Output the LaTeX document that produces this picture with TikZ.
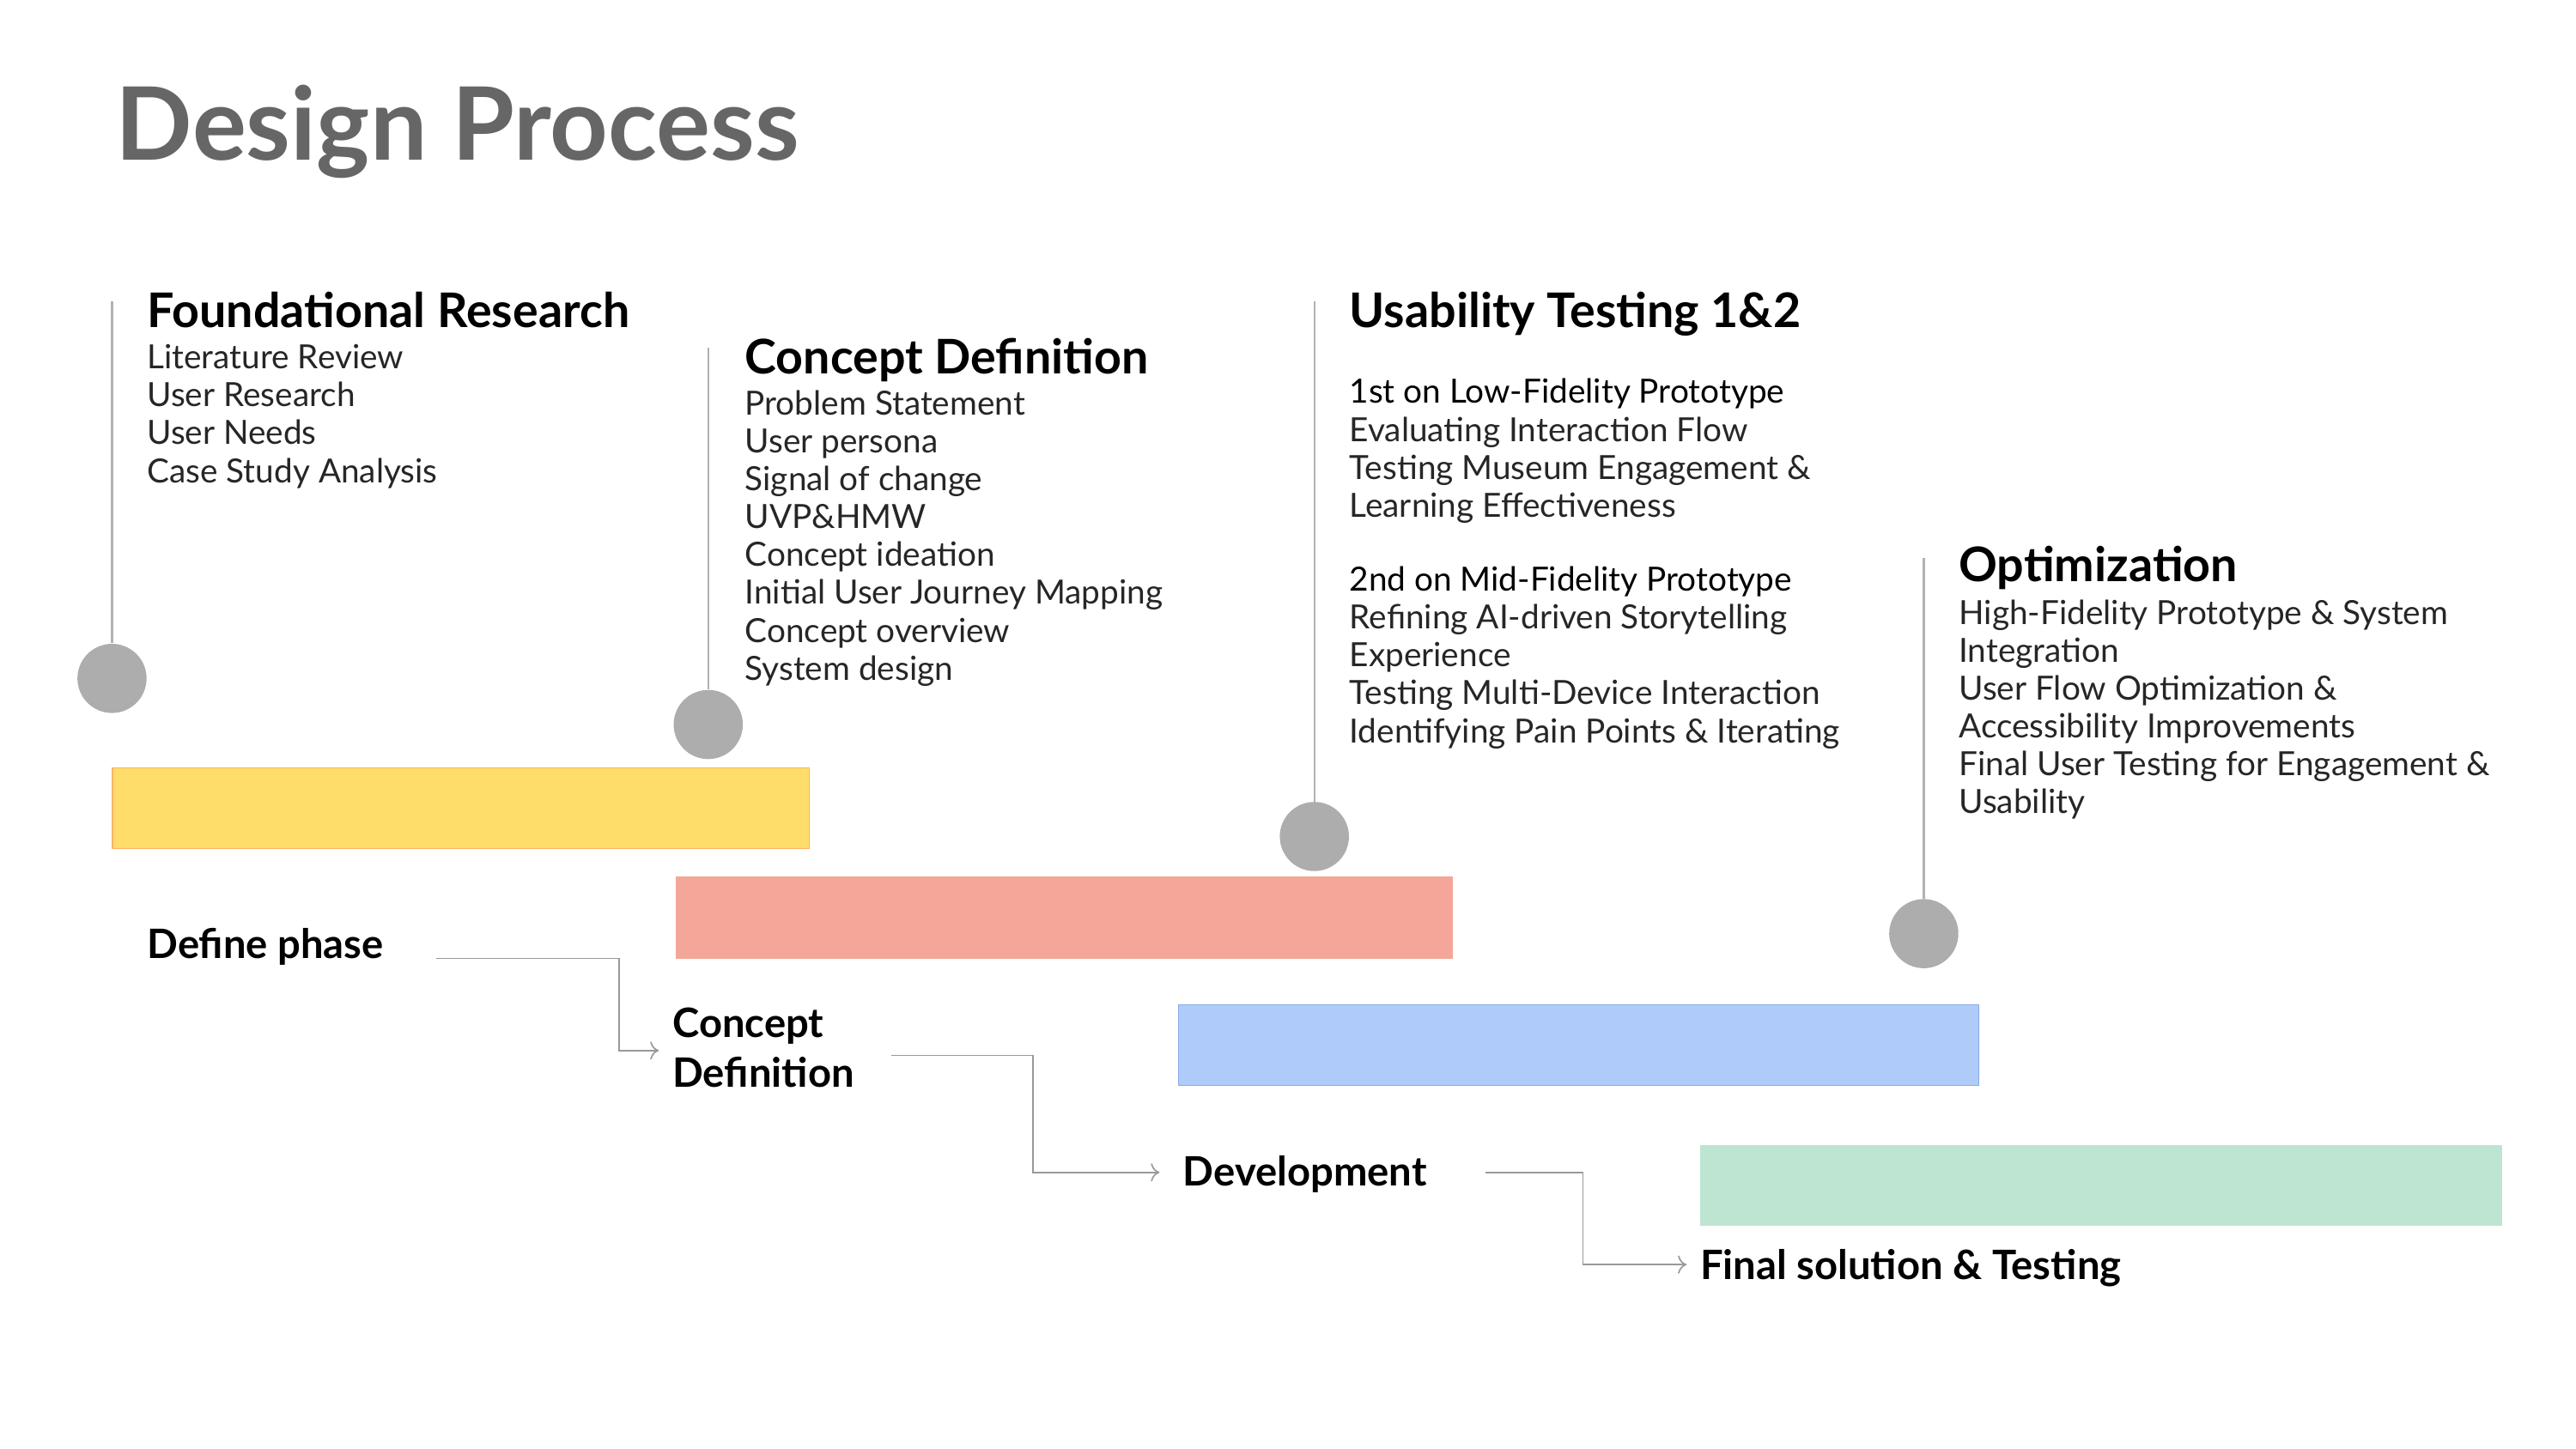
\documentclass[tikz,border=0pt]{standalone}
\usetikzlibrary{arrows.meta}
\usepackage{fontspec}
\setmainfont{Lato}
\begin{document}
\begin{tikzpicture}[x=0.02cm,y=-0.02cm,
  body/.style={anchor=base west,inner sep=0,font=\fontsize{11.5}{13}\selectfont,text=black!85},
  head/.style={anchor=base west,inner sep=0,font=\fontsize{16.5}{18}\selectfont\bfseries,text=black},
  phase/.style={anchor=base west,inner sep=0,font=\fontsize{14}{17}\selectfont\bfseries,text=black},
  vline/.style={draw=black!30,line width=0.7pt},
  dot/.style={circle,fill=black!32,minimum size=0.84cm,inner sep=0},
  conn/.style={draw=black!40,line width=0.5pt,-{To[length=3pt]}}]
\useasboundingbox (0,0) rectangle (1564,880);
\node[anchor=base west,inner sep=0,font=\fontsize{35}{40}\selectfont\bfseries,text=black!60] (title) at (70,97) {Design Process};
% timeline markers
\coordinate (t1) at (68,183); \node[dot] (d1) at (68,412) {};
\coordinate (t2) at (430,211); \node[dot] (d2) at (430,440) {};
\coordinate (t3) at (798,183); \node[dot] (d3) at (798,508) {};
\coordinate (t4) at (1168,339); \node[dot] (d4) at (1168,567) {};
\draw[vline] (t1) -- (d1); \draw[vline] (t2) -- (d2); \draw[vline] (t3) -- (d3); \draw[vline] (t4) -- (d4);
% bars
\node[draw=orange!60,fill={rgb,255:red,255;green,221;blue,107},minimum width=8.46cm,minimum height=0.98cm,anchor=north west,inner sep=0] (b1) at (68,466) {};
\node[fill={rgb,255:red,244;green,166;blue,152},minimum width=9.44cm,minimum height=1cm,anchor=north west,inner sep=0] (b2) at (410,532) {};
\node[draw={rgb,255:red,140;green,170;blue,230},fill={rgb,255:red,174;green,203;blue,250},minimum width=9.72cm,minimum height=0.98cm,anchor=north west,inner sep=0] (b3) at (715,610) {};
\node[fill={rgb,255:red,189;green,229;blue,210},minimum width=9.74cm,minimum height=0.98cm,anchor=north west,inner sep=0] (b4) at (1032,695) {};
% headings and bodies
\node[head] (h1) at (89,199) {Foundational Research};
\foreach \t [count=\i] in {Literature Review,User Research,User Needs,Case Study Analysis}
  \node[body] (fr\i) at (89,224+23*\i-23) {\t};
\node[head] (h2) at (452,227) {Concept Definition};
\foreach \t [count=\i] in {Problem Statement,User persona,Signal of change,UVP\&HMW,Concept ideation,Initial User Journey Mapping,Concept overview,System design}
  \node[body] (cd\i) at (452,252+23*\i-23) {\t};
\node[head] (h3) at (819,199) {Usability Testing 1\&2};
\foreach \t [count=\i] in {Evaluating Interaction Flow,Testing Museum Engagement \&,Learning Effectiveness}
  \node[body] (ua\i) at (819,268+23*\i-23) {\t};
\node[body,text=black] (ua0) at (819,245) {1st on Low-Fidelity Prototype};
\node[body,text=black] (ub0) at (819,359) {2nd on Mid-Fidelity Prototype};
\foreach \t [count=\i] in {Refining AI-driven Storytelling,Experience,Testing Multi-Device Interaction,Identifying Pain Points \& Iterating}
  \node[body] (ub\i) at (819,382+23*\i-23) {\t};
\node[head] (h4) at (1189,353) {Optimization};
\foreach \t [count=\i] in {High-Fidelity Prototype \& System,Integration,User Flow Optimization \&,Accessibility Improvements,Final User Testing for Engagement \&,Usability}
  \node[body] (op\i) at (1189,379+23*\i-23) {\t};
% phases
\node[phase] (p1) at (89,582) {Define phase};
\node[phase] (p2) at (408,630) {Concept};
\node[phase] (p2b) at (408,660) {Definition};
\node[phase] (p3) at (718,720) {Development};
\node[phase] (p4) at (1032,777) {Final solution \& Testing};
% connectors
\coordinate (c1) at (265,582); \coordinate (e1) at (400,638);
\coordinate (c2) at (541,641); \coordinate (e2) at (704,712);
\coordinate (c3) at (902,712); \coordinate (e3) at (1024,768);
\draw[conn] (c1) -- (376,582) |- (e1);
\draw[conn] (c2) -- (627,641) |- (e2);
\draw[conn] (c3) -- (961,712) |- (e3);
\end{tikzpicture}
\end{document}
